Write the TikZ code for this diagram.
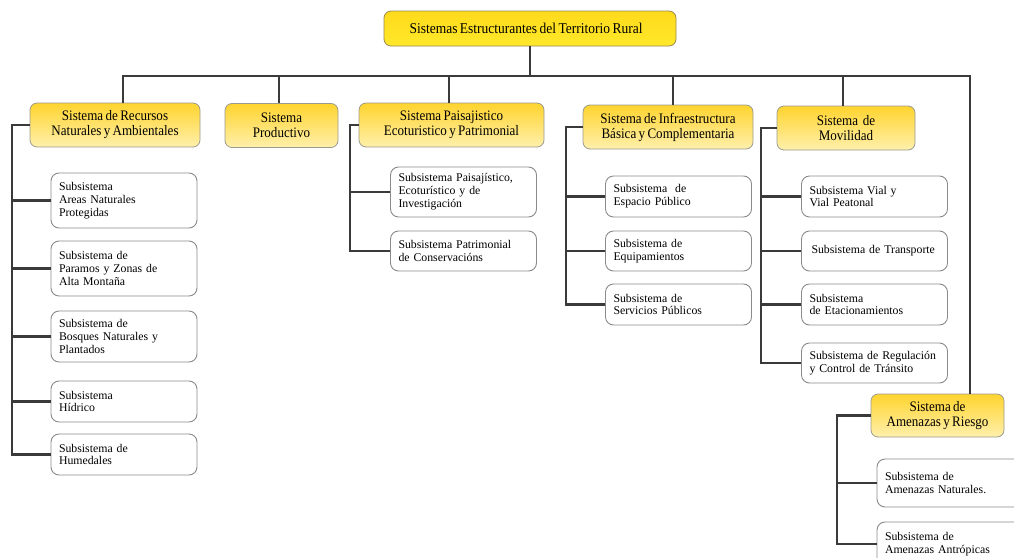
\documentclass[tikz,border=0pt]{standalone}
\usepackage{fontspec}
\setmainfont[FakeStretch=0.9,WordSpace=0.72]{Liberation Serif}
\newfontfamily\subfont{Liberation Serif}
\definecolor{linec}{HTML}{3A3A3A}
\definecolor{topb}{HTML}{9A8A50}
\definecolor{topy1}{HTML}{FFDA1C}
\definecolor{topy2}{HTML}{FFE82A}
\definecolor{sysb}{HTML}{9A9A90}
\definecolor{sysy1}{HTML}{FFD42E}
\definecolor{sysy2}{HTML}{FFF0AC}
\definecolor{subb}{HTML}{8A8A8A}
\begin{document}
\begin{tikzpicture}[x=1pt,y=-1pt,
  conn/.style={draw=linec, line width=2.6pt},
  topbox/.style={draw=topb, line width=0.8pt, rounded corners=7pt, top color=topy1, bottom color=topy2, minimum width=292pt, minimum height=35pt, inner sep=0pt, font=\fontsize{15}{16}\selectfont},
  sysbox/.style={draw=sysb, line width=0.8pt, rounded corners=7pt, top color=sysy1, bottom color=sysy2, align=center, inner sep=0pt, minimum height=44pt, font=\fontsize{14.5}{15}\selectfont},
  subbox/.style={draw=subb, line width=0.9pt, rounded corners=8pt, fill=white, align=left, text width=130pt, inner xsep=8pt, inner ysep=0pt, font=\subfont\fontsize{11.8}{12.9}\selectfont}
]
\useasboundingbox (0,0) rectangle (1014,557);
\clip (0,0) rectangle (1014,557);

% bus coordinates
\coordinate (barR) at (970,76);
\coordinate (b1) at (12,0);
\coordinate (b3) at (350,0);
\coordinate (b4) at (566,0);
\coordinate (b5) at (761,0);
\coordinate (b6) at (837,0);

% top
\node[topbox] (top) at (530,28.5) {Sistemas Estructurantes del Territorio Rural\hspace*{8pt}};

% systems
\node[sysbox, minimum width=170pt] (r1) at (115,125) {Sistema de Recursos\\Naturales y Ambientales};
\node[sysbox, minimum width=113pt] (r2) at (281.5,125.5) {Sistema\\Productivo};
\node[sysbox, minimum width=185pt] (r3) at (451.5,125) {Sistema Paisajistico\\Ecoturistico y Patrimonial};
\node[sysbox, minimum width=170pt] (r4) at (668,127) {Sistema de Infraestructura\\Básica y Complementaria};
\node[sysbox, minimum width=138pt] (r5) at (846,128) {Sistema\ \ de\\Movilidad};
\node[sysbox, minimum width=133pt, minimum height=43pt] (r6) at (937.5,415.5) {Sistema de\\Amenazas y Riesgo};

% subsystems col 1
\node[subbox, minimum height=55pt] (c1) at (124,200.5) {Subsistema\\Areas Naturales\\Protegidas};
\node[subbox, minimum height=55pt] (c2) at (124,268.5) {Subsistema de\\Paramos y Zonas de\\Alta Montaña};
\node[subbox, minimum height=51pt] (c3) at (124,336.5) {Subsistema de\\Bosques Naturales y\\Plantados};
\node[subbox, minimum height=41pt] (c4) at (124,401.5) {Subsistema\\Hídrico};
\node[subbox, minimum height=41pt] (c5) at (124,454.5) {Subsistema de\\Humedales};

% col 3
\node[subbox, minimum height=50pt] (p1) at (463.5,192) {Subsistema Paisajístico,\\Ecoturístico y de\\Investigación};
\node[subbox, minimum height=40pt] (p2) at (463.5,251) {Subsistema Patrimonial\\de Conservacións};

% col 4
\node[subbox, minimum height=41pt] (i1) at (678.5,196.5) {Subsistema\ \ de\\Espacio Público};
\node[subbox, minimum height=40pt] (i2) at (678.5,251) {Subsistema de\\Equipamientos};
\node[subbox, minimum height=41pt] (i3) at (678.5,304.5) {Subsistema de\\Servicios Públicos};

% col 5
\node[subbox, minimum height=41pt] (m1) at (874.5,196.5) {Subsistema Vial y\\Vial Peatonal};
\node[subbox, minimum height=40pt] (m2) at (874.5,251) {\hspace*{2pt}Subsistema de Transporte};
\node[subbox, minimum height=41pt] (m3) at (874.5,304.5) {Subsistema\\de Etacionamientos};
\node[subbox, minimum height=40pt] (m4) at (874.5,363) {Subsistema de Regulación\\y Control de Tránsito};

% col 6
\node[subbox, text width=137pt, minimum height=48pt] (a1) at (953.5,483) {Subsistema de\\Amenazas Naturales.};
\node[subbox, text width=137pt, minimum height=44pt] (a2) at (953.5,544) {Subsistema de\\Amenazas Antrópicas};

% top connectors
\draw[conn] (top.south) -- (top.south |- barR);
\draw[conn] ([xshift=8pt]r1.north) |- (barR) -- (barR |- r6.north);
\draw[conn] ([xshift=-2.5pt]r2.north) -- ([xshift=-2.5pt]r2.north |- barR);
\draw[conn] ([xshift=-2.5pt]r3.north) -- ([xshift=-2.5pt]r3.north |- barR);
\draw[conn] ([xshift=5pt]r4.north) -- ([xshift=5pt]r4.north |- barR);
\draw[conn] ([xshift=-3pt]r5.north) -- ([xshift=-3pt]r5.north |- barR);

% col 1
\draw[conn] (r1.west) -| (b1 |- c5.west) -- (c5.west);
\foreach \n in {c1,c2,c3,c4} \draw[conn] (\n.west) -- (\n.west -| b1);
% col 3
\draw[conn] (r3.west) -| (b3 |- p2.west) -- (p2.west);
\draw[conn] (p1.west) -- (p1.west -| b3);
% col 4
\draw[conn] (r4.west) -| (b4 |- i3.west) -- (i3.west);
\foreach \n in {i1,i2} \draw[conn] (\n.west) -- (\n.west -| b4);
% col 5
\draw[conn] (r5.west) -| (b5 |- m4.west) -- (m4.west);
\foreach \n in {m1,m2,m3} \draw[conn] (\n.west) -- (\n.west -| b5);
% col 6
\draw[conn] (r6.west) -| (b6 |- a2.west) -- (a2.west);
\draw[conn] (a1.west) -- (a1.west -| b6);
\end{tikzpicture}
\end{document}
